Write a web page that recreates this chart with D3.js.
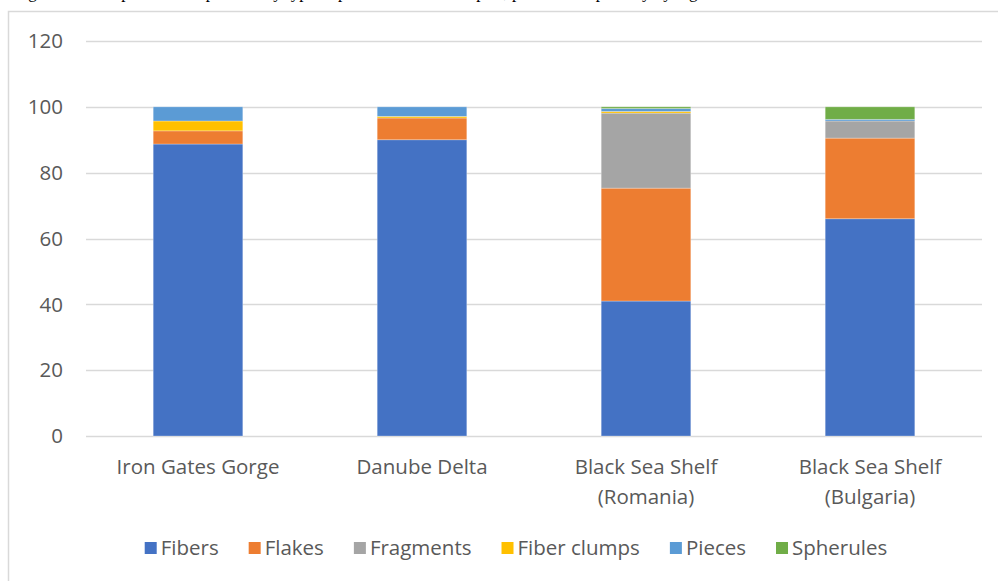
<!DOCTYPE html>
<html>
<head>
<meta charset="utf-8">
<script src="https://cdn.jsdelivr.net/npm/d3@7"></script>
<style>
  body { margin: 0; background: #fff; overflow: hidden; }
  svg { display: block; }
</style>
</head>
<body>
<div id="chart"></div>
<script>
// data
const regions = ["Iron Gates Gorge", "Danube Delta", "Black Sea Shelf (Romania)", "Black Sea Shelf (Bulgaria)"];
const regionLines = [["Iron Gates Gorge"], ["Danube Delta"], ["Black Sea Shelf", "(Romania)"], ["Black Sea Shelf", "(Bulgaria)"]];
const types = ["Fibers", "Flakes", "Fragments", "Fiber clumps", "Pieces", "Spherules"];
const fibers      = [88.7, 90.0, 41.0, 66.0];
const flakes      = [4.0, 6.6, 34.3, 24.5];
const fragments   = [0, 0, 22.8, 5.2];
const fiberClumps = [3.0, 0.5, 0.5, 0];
const pieces      = [4.3, 2.9, 0.9, 0.5];
const spherules   = [0, 0, 0.5, 3.8];
const yTicks = [0, 20, 40, 60, 80, 100, 120];
const colors = ["#4472C4", "#ED7D31", "#A5A5A5", "#FFC000", "#5B9BD5", "#70AD47"];

const W = 998, H = 581;
const margin = { top: 41, right: 16, bottom: 145, left: 86 };
const font = "'Open Sans', sans-serif";
const fsize = "20.5px";

const svg = d3.select("#chart").append("svg")
    .attr("width", W)
    .attr("height", H);

// caption line of the page, cut off at the top
svg.append("text")
    .attr("x", 14)
    .attr("y", -2.5)
    .style("font-family", "'Liberation Serif', serif")
    .style("font-size", "17px")
    .attr("fill", "#000")
    .text("Figure 4. Microplastics composition by type of particles for the samples, presented separately by region");

// chart frame
svg.append("rect")
    .attr("x", 8.5)
    .attr("y", 11.5)
    .attr("width", 1100)
    .attr("height", 700)
    .attr("fill", "#fff")
    .attr("stroke", "#d9d9d9")
    .attr("stroke-width", 1.5);

const rows = regions.map((r, i) => ({
    region: r,
    Fibers: fibers[i],
    Flakes: flakes[i],
    Fragments: fragments[i],
    "Fiber clumps": fiberClumps[i],
    Pieces: pieces[i],
    Spherules: spherules[i]
}));

const x = d3.scaleBand()
    .domain(regions)
    .range([margin.left, W - margin.right])
    .paddingInner(0.6)
    .paddingOuter(0.3);

const y = d3.scaleLinear()
    .domain([0, 120])
    .range([H - margin.bottom, margin.top]);

const color = d3.scaleOrdinal().domain(types).range(colors);

// gridlines
svg.append("g")
    .selectAll("line")
    .data(yTicks)
    .join("line")
    .attr("x1", margin.left)
    .attr("x2", W - margin.right)
    .attr("y1", d => Math.round(y(d)) + 0.5)
    .attr("y2", d => Math.round(y(d)) + 0.5)
    .attr("stroke", "#d9d9d9")
    .attr("stroke-width", 1.3);

// y tick labels
svg.append("g")
    .selectAll("text")
    .data(yTicks)
    .join("text")
    .attr("x", 63)
    .attr("y", d => y(d))
    .attr("dy", "0.35em")
    .attr("text-anchor", "end")
    .attr("fill", "#595959")
    .style("font-family", font)
    .style("font-size", fsize)
    .text(d => d);

// stacked bars
const series = d3.stack().keys(types)(rows);

svg.append("g")
    .selectAll("g")
    .data(series)
    .join("g")
    .attr("fill", d => color(d.key))
    .selectAll("rect")
    .data(d => d)
    .join("rect")
    .attr("x", d => x(d.data.region))
    .attr("y", d => y(d[1]))
    .attr("width", x.bandwidth())
    .attr("height", d => Math.max(0, y(d[0]) - y(d[1])))
    .attr("stroke", "#fff")
    .attr("stroke-opacity", 0.35)
    .attr("stroke-width", 0.8);

// x labels
const xl = svg.append("g")
    .selectAll("text")
    .data(regions)
    .join("text")
    .attr("text-anchor", "middle")
    .attr("fill", "#595959")
    .style("font-family", font)
    .style("font-size", fsize);

xl.each(function(d, i) {
    d3.select(this).selectAll("tspan")
        .data(regionLines[i])
        .join("tspan")
        .attr("x", x(d) + x.bandwidth() / 2)
        .attr("y", (t, j) => 474 + j * 30)
        .text(t => t);
});

// legend
const legend = svg.append("g");
const items = legend.selectAll("g")
    .data(types)
    .join("g");

items.append("rect")
    .attr("width", 12)
    .attr("height", 12)
    .attr("y", -6)
    .attr("fill", d => color(d));

items.append("text")
    .attr("x", 16)
    .attr("dy", "0.35em")
    .attr("fill", "#595959")
    .style("font-family", font)
    .style("font-size", fsize)
    .text(d => d);

let pos = 0;
const gap = 30;
items.each(function() {
    const w = 16 + d3.select(this).select("text").node().getComputedTextLength();
    d3.select(this).attr("transform", `translate(${pos},0)`);
    pos += w + gap;
});
const total = pos - gap;
legend.attr("transform", `translate(${516 - total / 2},548)`);
</script>
</body>
</html>
